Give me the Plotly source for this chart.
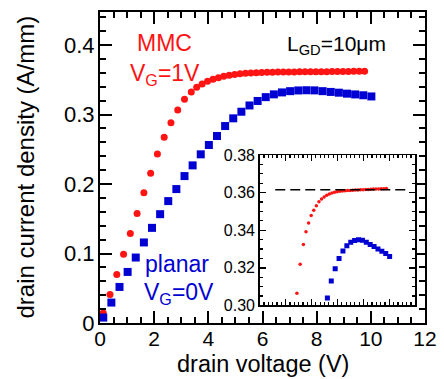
import plotly.graph_objects as go

# ---------------- data ----------------
vd_mmc = [0.12, 0.37, 0.62, 0.87, 1.12, 1.37, 1.62, 1.87, 2.12, 2.37, 2.62, 2.87, 3.12, 3.37,
          3.57, 3.77, 3.97, 4.17, 4.37, 4.57, 4.77, 4.97, 5.17, 5.37, 5.57, 5.77, 5.97, 6.17,
          6.37, 6.57, 6.77, 6.97, 7.17, 7.37, 7.57, 7.77, 7.97, 8.17, 8.37, 8.57, 8.77, 8.97,
          9.17, 9.37, 9.57, 9.77]
id_mmc = [0.0144, 0.0409, 0.0697, 0.0990, 0.1288, 0.1576, 0.1873, 0.2153, 0.2431, 0.2671,
          0.2882, 0.3065, 0.3219, 0.3324, 0.3392, 0.3439, 0.3478, 0.3507, 0.3530, 0.3552,
          0.3566, 0.3577, 0.3586, 0.3593, 0.3598, 0.3602, 0.3605, 0.3607, 0.3609, 0.3610,
          0.3611, 0.3612, 0.3613, 0.3614, 0.3614, 0.3615, 0.3616, 0.3617, 0.3617, 0.3618,
          0.3619, 0.3619, 0.3620, 0.3621, 0.3621, 0.3622]

vd_planar = [0.12, 0.42, 0.72, 1.02, 1.32, 1.62, 1.92, 2.22, 2.52, 2.82, 3.12, 3.42, 3.72,
             4.02, 4.32, 4.62, 4.92, 5.22, 5.52, 5.82, 6.12, 6.42, 6.72, 7.02, 7.32, 7.62,
             7.92, 8.22, 8.52, 8.82, 9.12, 9.42, 9.72, 10.02]
id_planar = [0.0078, 0.0294, 0.0519, 0.0735, 0.0942, 0.1159, 0.1369, 0.1566, 0.1754, 0.1927,
             0.2114, 0.2268, 0.2427, 0.2561, 0.2691, 0.2834, 0.2945, 0.3040, 0.3130, 0.3195,
             0.3250, 0.3290, 0.3318, 0.3336, 0.3346, 0.3349, 0.3347, 0.3336, 0.3325, 0.3314,
             0.3300, 0.3289, 0.3277, 0.3260]

x_ticks = [0, 2, 4, 6, 8, 10, 12]
y_ticks = [0, 0.1, 0.2, 0.3, 0.4]
y_tick_text = ["0", "0.1", "0.2", "0.3", "0.4"]
inset_y_ticks = [0.30, 0.32, 0.34, 0.36, 0.38]
sat_level = 0.3615          # dashed reference line in the inset
sat_span = [1.2, 11.6]

RED = "#ff1414"
BLUE = "#0000d2"
FONT = "Liberation Sans, Arial, Helvetica, sans-serif"

fig = go.Figure()
# main plot
fig.add_trace(go.Scatter(x=vd_mmc, y=id_mmc, mode="markers", xaxis="x", yaxis="y",
                         marker=dict(symbol="circle", size=7, color=RED), showlegend=False))
fig.add_trace(go.Scatter(x=vd_planar, y=id_planar, mode="markers", xaxis="x", yaxis="y",
                         marker=dict(symbol="square", size=8, color=BLUE), showlegend=False))
# inset
fig.add_trace(go.Scatter(x=vd_mmc, y=id_mmc, mode="markers", xaxis="x2", yaxis="y2",
                         marker=dict(symbol="circle", size=3.5, color=RED), showlegend=False))
fig.add_trace(go.Scatter(x=vd_planar, y=id_planar, mode="markers", xaxis="x2", yaxis="y2",
                         marker=dict(symbol="square", size=5, color=BLUE), showlegend=False))

common = dict(showline=True, linecolor="black", mirror="ticks", ticks="inside",
              tickcolor="black", showgrid=False, zeroline=False, automargin=False)

fig.update_layout(
    template="none",
    width=444, height=379,
    margin=dict(l=100, r=19, t=12, b=56, pad=0),
    paper_bgcolor="white", plot_bgcolor="white",
    font=dict(family=FONT, color="black"),
    hovermode=False,
    xaxis=dict(**common, domain=[0, 1], anchor="y", range=[0, 12], tickvals=x_ticks,
               linewidth=2, ticklen=12, tickwidth=2, ticklabelstandoff=-4,
               minor=dict(dtick=0.5, tick0=0, ticks="inside", ticklen=6, tickwidth=2,
                          tickcolor="black", showgrid=False),
               tickfont=dict(size=21)),
    yaxis=dict(**common, domain=[0, 1], anchor="x", range=[0, 0.4475], tickvals=y_ticks,
               ticktext=y_tick_text, ticklabelstandoff=-1,
               linewidth=2, ticklen=12, tickwidth=2,
               minor=dict(dtick=0.02, tick0=0, ticks="inside", ticklen=6, tickwidth=2,
                          tickcolor="black", showgrid=False),
               tickfont=dict(size=22)),
    xaxis2=dict(**common, domain=[0.4914, 0.9702], anchor="y2", range=[0, 12], dtick=2,
                showticklabels=False, linewidth=1.5, ticklen=6, tickwidth=1.5,
                minor=dict(dtick=1/3, tick0=0, ticks="inside", ticklen=3, tickwidth=1.2,
                           tickcolor="black", showgrid=False)),
    yaxis2=dict(**common, domain=[0.0563, 0.540], anchor="x2", range=[0.30, 0.38],
                tickvals=inset_y_ticks, tickformat=".2f", linewidth=1.5, ticklen=6,
                tickwidth=1.5,
                minor=dict(dtick=0.005, tick0=0.30, ticks="inside", ticklen=3, tickwidth=1.2,
                           tickcolor="black", showgrid=False),
                tickfont=dict(size=16)),
)

fig.add_shape(type="line", xref="x2", yref="y2", x0=sat_span[0], x1=sat_span[1],
              y0=sat_level, y1=sat_level, line=dict(color="black", width=1.5, dash="10px,5px"))

ann = []
# axis titles
ann.append(dict(text="drain voltage (V)", xref="paper", yref="paper", x=0.5, y=0,
                xanchor="center", yanchor="middle", yshift=-41, showarrow=False,
                font=dict(size=23.5, color="black")))
ann.append(dict(text="drain current density (A/mm)", xref="paper", yref="paper", x=0, y=0.5,
                xanchor="center", yanchor="middle", xshift=-75, textangle=-90, showarrow=False,
                font=dict(size=24, color="black")))
# labels
ann.append(dict(text="MMC", xref="x", yref="y", x=2.38, y=0.403, xanchor="center",
                yanchor="middle", showarrow=False, font=dict(size=23, color=RED)))
ann.append(dict(text="V<sub>G</sub>=1V", xref="x", yref="y", x=1.05, y=0.358, xanchor="left",
                yanchor="middle", showarrow=False, font=dict(size=23, color=RED)))
ann.append(dict(text="planar", xref="x", yref="y", x=1.59, y=0.085, xanchor="left",
                yanchor="middle", showarrow=False, font=dict(size=23, color=BLUE)))
ann.append(dict(text="V<sub>G</sub>=0V", xref="x", yref="y", x=1.54, y=0.042, xanchor="left",
                yanchor="middle", showarrow=False, font=dict(size=23, color=BLUE)))
ann.append(dict(text="L<sub>GD</sub>=10μm", xref="x", yref="y", x=6.83, y=0.400,
                xanchor="left", yanchor="middle", showarrow=False,
                font=dict(size=21, color="black")))
fig.update_layout(annotations=ann)

fig.write_html("out.html", config={"displayModeBar": False, "staticPlot": True},
               post_script="document.body.style.margin='0';document.body.style.overflow='hidden';")
